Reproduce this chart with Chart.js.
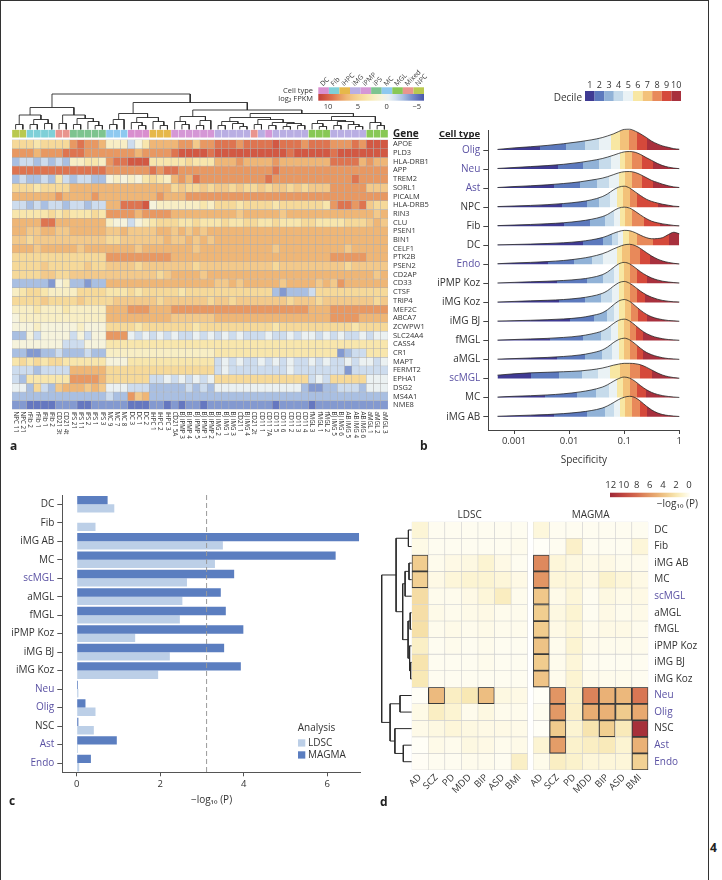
<!DOCTYPE html>
<html>
<head>
<meta charset="utf-8">
<script src="https://cdn.jsdelivr.net/npm/chart.js@4.4.1/dist/chart.umd.min.js"></script>
<style>
  body { margin: 0; background: #fff; font-family: 'Open Sans', sans-serif; }
  #page { position: relative; width: 722px; height: 880px; overflow: hidden; }
  #frame { position: absolute; left: 0; top: 0; width: 707px; height: 900px; border: 1.5px solid #333; border-bottom: none; }
  canvas { position: absolute; }
  .tag { position: absolute; font-weight: bold; font-size: 12px; color: #222; }
</style>
</head>
<body>
<div id="page">
  <div id="frame"></div>
  <canvas id="dendroA" width="460" height="70" style="left:0;top:60px"></canvas>
  <canvas id="heatA" width="460" height="340" style="left:0;top:120px"></canvas>
  <canvas id="ridges" width="280" height="410" style="left:430px;top:60px"></canvas>
  <canvas id="bars" width="365" height="330" style="left:0;top:480px"></canvas>
  <canvas id="dendroD" width="45" height="270" style="left:370px;top:510px"></canvas>
  <canvas id="ldsc" width="130" height="300" style="left:405px;top:505px"></canvas>
  <canvas id="magma" width="180" height="330" style="left:530px;top:475px"></canvas>
  <div class="tag" style="left:10px;top:437px">a</div>
  <div class="tag" style="left:420px;top:437px">b</div>
  <div class="tag" style="left:9px;top:792px">c</div>
  <div class="tag" style="left:380px;top:793px">d</div>
  <div class="tag" style="left:710px;top:839px">4</div>
</div>
<script>
'use strict';

// ---------- panel a : log2 FPKM of AD genes ----------
var genes = ['APOE', 'PLD3', 'HLA-DRB1', 'APP', 'TREM2', 'SORL1', 'PICALM', 'HLA-DRB5', 'RIN3', 'CLU',
  'PSEN1', 'BIN1', 'CELF1', 'PTK2B', 'PSEN2', 'CD2AP', 'CD33', 'CTSF', 'TRIP4', 'MEF2C', 'ABCA7',
  'ZCWPW1', 'SLC24A4', 'CASS4', 'CR1', 'MAPT', 'FERMT2', 'EPHA1', 'DSG2', 'MS4A1', 'NME8'];

var sampleNames = ['NPC 11', 'NPC 21', 'rFib 2', 'rFib 1', 'iFib 1', 'iFib 2', 'CD21 3t', 'CD21 4t',
  'iPS 21', 'iPS 11', 'iPS 2', 'iPS 1', 'iPS 3', 'MC 9', 'MC 7', 'MC 8', 'DC 3', 'DC 1', 'DC 2',
  'iHPC 1', 'iHPC 2', 'iHPC 3', 'CD21 5A', 'BJ iPMP 3', 'BJ iPMP 4', 'BJ iPMP 5', 'BJ iPMP 1', 'BJ iPMP 2',
  'BJ iMG 2', 'BJ iMG 1', 'BJ iMG 3', 'CD21 1', 'BJ iMG 4', 'CD21 2t', 'CD11 1', 'CD11 7A', 'CD11 5',
  'CD11 6', 'CD11 2', 'CD11 3', 'CD11 4', 'fMGL 3', 'fMGL 1', 'fMGL 2', 'BJ iMG 5', 'BJ iMG 6',
  'AB iMG 5', 'AB iMG 4', 'AB iMG 6', 'aMGL 1', 'aMGL 2', 'aMGL 3'];

var sampleGroups = ['NPC', 'NPC', 'Fib', 'Fib', 'Fib', 'Fib', 'Mixed', 'Mixed',
  'iPS', 'iPS', 'iPS', 'iPS', 'iPS', 'MC', 'MC', 'MC', 'DC', 'DC', 'DC',
  'iHPC', 'iHPC', 'iHPC', 'iPMP', 'iPMP', 'iPMP', 'iPMP', 'iPMP', 'iPMP',
  'iMG', 'iMG', 'iMG', 'iMG', 'iMG', 'Mixed', 'iMG', 'iPMP', 'iMG',
  'iMG', 'iMG', 'iMG', 'iMG', 'MGL', 'MGL', 'MGL', 'iMG', 'iMG',
  'iMG', 'iMG', 'iMG', 'MGL', 'MGL', 'MGL'];

var groupNames = ['DC', 'Fib', 'iHPC', 'iMG', 'iPMP', 'iPS', 'MC', 'MGL', 'Mixed', 'NPC'];
var groupColors = ['#d98fcf', '#7fd0d8', '#e6b84a', '#b9aee3', '#d597d6', '#7dc48f', '#8ec9f0', '#88c855', '#e9958e', '#b9c94f'];

// one string per gene, one char per sample: digit = log2 FPKM, p..t = -1..-5
var fpkmRows = [
  '44 4344 44 78776 222 p13 666 677577 888788 8898887 888 77787 999',
  '77 7677 78 88777 777 767 777 899998 999999 9999899 999 89999 999',
  'qp pqpq pq 22332 788 999 333 334333 666766 6676666 666 88886 766',
  '88 8888 88 88888 777 777 878 877777 777777 7787777 777 77777 777',
  'qp qqpq 3p qppqq 121 213 432 676877 777777 7877777 777 77787 777',
  '44 4344 44 66666 666 666 666 454454 554544 5455454 555 77777 555',
  '66 6666 76 66676 666 666 676 667777 777777 7777777 777 77777 777',
  'pp qpqp pq ppqpp 668 889 122 222232 444344 4434444 443 78878 544',
  '33 3334 34 33343 777 767 777 666666 666566 6665666 666 66666 656',
  '66 6688 66 66666 211 p12 344 433433 343344 3343334 433 33444 565',
  '66 5566 55 66666 556 555 566 565656 666666 6666666 666 66666 666',
  '55 4555 55 55555 445 555 556 556565 666666 6666666 666 66666 666',
  '66 6566 66 65666 666 656 666 666566 666666 6656666 666 66566 666',
  '44 4444 44 44444 777 777 777 666666 666666 6666666 666 77777 666',
  '44 4454 44 44544 555 545 555 555455 555555 5545555 555 55455 555',
  '44 4455 44 55555 555 555 545 666656 666666 6666666 666 66666 656',
  'qq qqqr 12 qqrqq 666 666 666 666666 556566 6665666 656 57666 666',
  '23 4432 22 24444 333 434 444 434444 444444 44qrqqq p44 44444 444',
  '44 4454 44 45444 455 555 545 555554 554555 5555455 545 55555 545',
  '22 2322 23 22222 666 777 666 777777 777777 7777777 666 77777 777',
  '12 2222 22 22222 666 666 666 555555 666666 6666666 666 77776 666',
  '11 1211 11 12111 444 434 444 444344 444444 4434444 444 44434 444',
  'qq 1p11 11 p1p11 777 0p0 p0p 0pp0p0 p0p0pp p0pp0p0 0p0 p0pp0 p00',
  '11 1111 1p pp111 333 333 333 333333 333333 3333333 333 33333 333',
  'qq rrqq pq qqpqq 222 222 222 222222 333333 3333333 333 3rqpp 333',
  '34 3434 43 33333 111 333 333 333333 p0p0pp 0p0p0pp 0p0 pp0p0 0p0',
  'pp pqpp pp 66666 444 444 444 444444 p0pppp pppp0pp ppp pprpp ppp',
  'pq 3333 33 77776 444 444 pp0 p0p0p0 444444 4444444 p0p 44444 000',
  '00 q4pq 56 66565 000 ppp qqq qqpqpq 000000 000000q rrq qpppq 000',
  'qq qqqq qq qqqqq pqq 756 qqq qqqqqq qqqqqq qqqqqqq qqq qqqqq qqq',
  'rr ssss rr rssrr rrr sss rrs rsrrsr rrrrrr rrsrrrr srr rrrrr rrr'
];

// sample dendrogram: [height, left, right], leaves are sample indices
var treeA = [35.5,
  [22, [14.5, [5, 0, 1], [10, [5, 2, 3], [6, 4, 5]]],
       [14.5, [6, 6, 7], [11, [5, 8, 9], [8, 10, [4, 11, 12]]]]],
  [27, [16, [10, [5, 13, 14], 15], [12, [7, 16, [4, 17, 18]], [8, 19, [4, 20, 21]]]],
       [19.5, [13, [8, 22, [5, 23, 24]], [9, [4, 25, 26], 27]],
              [16, [12, [8, [4, 28, 29], [6, 30, [3, 31, 32]]], [10, [5, 33, 34], [7, [4, 35, 36], [6, [3, 37, 38], [4, 39, 40]]]]],
                   [13, [9, [6, 41, [3, 42, 43]], [8, [4, 44, 45], [5, 46, [3, 47, 48]]]], [7, 49, [4, 50, 51]]]]]]];

// ---------- panel b : specificity ridges ----------
var ridgeNames = ['Olig', 'Neu', 'Ast', 'NPC', 'Fib', 'DC', 'Endo', 'iPMP Koz', 'iMG Koz', 'iMG BJ',
  'fMGL', 'aMGL', 'scMGL', 'MC', 'iMG AB'];
var specGrid = [-3.3, -3.0, -2.7, -2.4, -2.1, -1.8, -1.6, -1.4, -1.3, -1.2, -1.1, -1.0, -0.9, -0.8,
  -0.7, -0.6, -0.5, -0.4, -0.3, -0.2, -0.1, 0];   // log10 specificity
var ridgeHeights = [
  [0.03, 0.11, 0.17, 0.24, 0.33, 0.44, 0.53, 0.65, 0.74, 0.84, 0.97, 1.08, 1.09, 0.99, 0.84, 0.66, 0.46, 0.32, 0.21, 0.14, 0.07, 0.04],
  [0.03, 0.08, 0.13, 0.18, 0.25, 0.35, 0.44, 0.55, 0.63, 0.72, 0.82, 0.90, 0.92, 0.88, 0.76, 0.60, 0.45, 0.30, 0.18, 0.10, 0.05, 0.02],
  [0.03, 0.08, 0.12, 0.17, 0.24, 0.33, 0.42, 0.52, 0.60, 0.70, 0.80, 0.86, 0.87, 0.82, 0.70, 0.55, 0.40, 0.30, 0.20, 0.12, 0.06, 0.03],
  [0.03, 0.06, 0.09, 0.13, 0.19, 0.28, 0.38, 0.55, 0.70, 0.90, 1.05, 1.10, 1.00, 0.80, 0.60, 0.42, 0.30, 0.22, 0.15, 0.10, 0.05, 0.03],
  [0.03, 0.06, 0.09, 0.13, 0.18, 0.27, 0.36, 0.50, 0.62, 0.80, 0.95, 1.00, 0.95, 0.78, 0.58, 0.40, 0.26, 0.18, 0.12, 0.08, 0.04, 0.02],
  [0.02, 0.04, 0.06, 0.09, 0.13, 0.20, 0.28, 0.40, 0.50, 0.62, 0.72, 0.78, 0.76, 0.66, 0.52, 0.40, 0.34, 0.35, 0.40, 0.56, 0.68, 0.60],
  [0.03, 0.07, 0.10, 0.14, 0.20, 0.30, 0.40, 0.55, 0.66, 0.80, 0.92, 1.02, 1.05, 0.98, 0.82, 0.62, 0.43, 0.28, 0.17, 0.10, 0.05, 0.02],
  [0.02, 0.05, 0.08, 0.11, 0.15, 0.22, 0.30, 0.45, 0.60, 0.82, 1.02, 1.10, 1.02, 0.82, 0.60, 0.42, 0.28, 0.18, 0.11, 0.07, 0.04, 0.02],
  [0.02, 0.05, 0.08, 0.11, 0.15, 0.23, 0.32, 0.47, 0.62, 0.84, 1.03, 1.10, 1.00, 0.80, 0.58, 0.40, 0.27, 0.17, 0.10, 0.06, 0.03, 0.02],
  [0.02, 0.04, 0.06, 0.09, 0.13, 0.20, 0.30, 0.45, 0.62, 0.86, 1.07, 1.15, 1.05, 0.82, 0.58, 0.38, 0.24, 0.15, 0.09, 0.05, 0.03, 0.01],
  [0.02, 0.05, 0.08, 0.11, 0.16, 0.24, 0.34, 0.50, 0.66, 0.88, 1.06, 1.12, 1.02, 0.80, 0.56, 0.37, 0.24, 0.15, 0.09, 0.05, 0.03, 0.01],
  [0.02, 0.05, 0.08, 0.11, 0.16, 0.24, 0.34, 0.50, 0.66, 0.88, 1.05, 1.12, 1.03, 0.82, 0.58, 0.38, 0.25, 0.16, 0.09, 0.05, 0.03, 0.01],
  [0.18, 0.25, 0.30, 0.33, 0.36, 0.40, 0.46, 0.55, 0.62, 0.70, 0.76, 0.80, 0.80, 0.78, 0.72, 0.60, 0.45, 0.30, 0.18, 0.10, 0.05, 0.02],
  [0.03, 0.07, 0.10, 0.14, 0.20, 0.30, 0.40, 0.55, 0.68, 0.85, 1.00, 1.08, 1.02, 0.85, 0.62, 0.42, 0.27, 0.17, 0.10, 0.06, 0.03, 0.01],
  [0.02, 0.05, 0.08, 0.11, 0.16, 0.24, 0.32, 0.45, 0.57, 0.73, 0.90, 1.02, 1.07, 1.00, 0.80, 0.56, 0.35, 0.20, 0.11, 0.06, 0.03, 0.01]
];
// log10 specificity where deciles 2..10 start
var decileBreaks = [
  [-2.53, -2.06, -1.72, -1.45, -1.24, -1.07, -0.92, -0.77, -0.58],
  [-2.21, -1.75, -1.45, -1.24, -1.07, -0.99, -0.86, -0.68, -0.47],
  [-2.28, -1.81, -1.50, -1.28, -1.10, -0.99, -0.86, -0.68, -0.47],
  [-2.13, -1.68, -1.45, -1.25, -1.13, -1.02, -0.90, -0.77, -0.38],
  [-2.09, -1.63, -1.35, -1.19, -1.08, -0.99, -0.86, -0.64, -0.35],
  [-1.74, -1.39, -1.22, -1.12, -1.02, -0.92, -0.77, -0.47, -0.19],
  [-2.38, -1.92, -1.59, -1.38, -1.13, -1.04, -0.90, -0.72, -0.53],
  [-2.22, -1.68, -1.38, -1.19, -1.10, -1.01, -0.89, -0.77, -0.59],
  [-2.19, -1.71, -1.42, -1.22, -1.10, -1.01, -0.89, -0.77, -0.62],
  [-1.98, -1.55, -1.32, -1.19, -1.09, -0.99, -0.88, -0.75, -0.59],
  [-2.35, -1.75, -1.42, -1.24, -1.12, -1.01, -0.90, -0.78, -0.65],
  [-2.22, -1.71, -1.41, -1.22, -1.10, -1.01, -0.90, -0.77, -0.65],
  [-2.70, -2.18, -1.77, -1.47, -1.25, -1.07, -0.89, -0.71, -0.50],
  [-2.44, -1.86, -1.51, -1.28, -1.13, -1.02, -0.90, -0.77, -0.61],
  [-2.28, -1.68, -1.35, -1.19, -1.07, -0.98, -0.86, -0.71, -0.59]
];
var decileColors = ['#3f3a93', '#5c79bd', '#91b2d7', '#c6dbeb', '#eaf2f5', '#f8e7a3', '#f3c27a', '#e8895a', '#d5493b', '#a8303d'];

// ---------- panel c : enrichment, -log10 P ----------
var cellTypes = ['DC', 'Fib', 'iMG AB', 'MC', 'scMGL', 'aMGL', 'fMGL', 'iPMP Koz', 'iMG BJ', 'iMG Koz',
  'Neu', 'Olig', 'NSC', 'Ast', 'Endo'];
var magmaP = [0.74, 0, 6.76, 6.20, 3.77, 3.45, 3.57, 3.99, 3.53, 3.93, 0.03, 0.21, 0.04, 0.96, 0.34];
var ldscP = [0.90, 0.45, 3.50, 3.31, 2.64, 2.53, 2.47, 1.40, 2.23, 1.95, 0.04, 0.45, 0.41, 0.03, 0.06];
var sigThreshold = 3.11;

// ---------- panel d : other traits (AD column comes from panel c) ----------
var traits = ['AD', 'SCZ', 'PD', 'MDD', 'BIP', 'ASD', 'BMI'];
var ldscOther = [
  [0.2, 0.2, 0.2, 0.2, 0.2, 0.2], [0.2, 0.2, 0.2, 0.2, 0.2, 0.3], [0.3, 0.5, 0.6, 1.0, 0.5, 0.2],
  [0.5, 0.8, 1.0, 1.0, 0.8, 0.5], [0.3, 0.3, 0.5, 0.8, 1.6, 0.3], [0.4, 0.3, 0.4, 0.5, 0.3, 0.3],
  [0.3, 0.4, 0.3, 0.4, 0.3, 0.3], [0.2, 0.3, 0.2, 0.3, 0.2, 0.2], [0.2, 0.2, 0.2, 0.3, 0.2, 0.2],
  [0.2, 0.2, 0.2, 0.2, 0.2, 0.2], [4.4, 1.5, 2.0, 4.2, 0.6, 0.5], [1.5, 1.0, 0.3, 0.6, 0.3, 0.3],
  [0.6, 0.8, 0.6, 0.5, 0.5, 0.4], [0.4, 0.3, 0.6, 0.5, 0.3, 0.4], [0.2, 0.2, 0.3, 0.3, 0.2, 1.4]
];
var magmaOther = [
  [0.2, 0.2, 0.2, 0.2, 0.2, 0.2], [0.2, 1.3, 0.2, 0.2, 0.2, 0.8], [0.8, 0.6, 0.4, 0.5, 0.3, 0.3],
  [0.8, 0.8, 0.5, 1.2, 0.8, 0.5], [0.4, 0.8, 0.2, 0.6, 0.4, 0.5], [0.6, 1.0, 0.2, 0.5, 0.3, 0.4],
  [0.5, 0.8, 0.3, 0.5, 0.5, 0.3], [0.3, 1.0, 0.3, 0.3, 0.3, 0.3], [0.3, 0.8, 0.2, 0.2, 0.2, 0.2],
  [0.3, 1.0, 0.3, 0.3, 0.3, 0.2], [6.2, 1.2, 7.0, 4.8, 4.5, 7.5], [6.0, 1.3, 5.0, 4.8, 3.6, 5.2],
  [3.6, 1.0, 2.2, 3.4, 1.8, 11.5], [5.8, 1.2, 1.5, 1.8, 1.0, 4.8], [1.5, 1.2, 0.8, 0.8, 0.8, 3.3]
];
var treeD = [10,
  [5.2, [1.1, 0, 1], [3.0, [2.2, [0.9, 2, 3], 4], [1.2, [0.5, 5, 6], [0.7, 7, [0.35, 8, 9]]]]],
  [7.2, [3.9, 10, 11], [5.6, 12, [2.8, 13, 14]]]];

var purpleNames = ['Olig', 'Neu', 'Ast', 'Endo', 'scMGL'];
var purple = '#5a51a3';
var ink = '#333';

// ---------- colour helpers ----------
var fpkmStops = [[-5, '#4a58aa'], [-4, '#6577c0'], [-3, '#8399d0'], [-2, '#a9bfe2'], [-1, '#cddcee'],
  [0, '#ebf1f2'], [1, '#f6f3dc'], [2, '#f8eec4'], [3, '#f8e6ac'], [4, '#f6d999'], [5, '#f3c98a'],
  [6, '#efb676'], [7, '#e89862'], [8, '#de7450'], [9, '#d25843'], [10, '#c0403a']];
var pStops = [[0, '#fffef7'], [1, '#fcf4d2'], [2, '#f8e8b4'], [3.5, '#f1cd8f'], [5, '#e9ad72'],
  [6.5, '#e08f60'], [8, '#d46a4e'], [10, '#bf4640'], [12, '#9e2838']];

function hexRgb(h) {
  return [parseInt(h.slice(1, 3), 16), parseInt(h.slice(3, 5), 16), parseInt(h.slice(5, 7), 16)];
}
function ramp(stops, v) {
  if (v <= stops[0][0]) return stops[0][1];
  for (var k = 1; k < stops.length; k++) {
    if (v <= stops[k][0]) {
      var t = (v - stops[k - 1][0]) / (stops[k][0] - stops[k - 1][0]);
      var a = hexRgb(stops[k - 1][1]), b = hexRgb(stops[k][1]);
      return 'rgb(' + a.map(function (x, i) { return Math.round(x + (b[i] - x) * t); }).join(',') + ')';
    }
  }
  return stops[stops.length - 1][1];
}

var fpkmCode = { p: -1, q: -2, r: -3, s: -4, t: -5 };
var fpkm = fpkmRows.map(function (r) {
  return r.replace(/ /g, '').split('').map(function (ch) { return ch in fpkmCode ? fpkmCode[ch] : Number(ch); });
});

function dendroPoints(tree) {
  var pts = [];
  function walk(node) {
    if (typeof node === 'number') return { pos: node, h: 0 };
    var l = walk(node[1]), r = walk(node[2]), h = node[0];
    pts.push({ pos: l.pos, h: l.h }, { pos: l.pos, h: h }, { pos: r.pos, h: h }, { pos: r.pos, h: r.h }, { pos: NaN, h: NaN });
    return { pos: (l.pos + r.pos) / 2, h: h };
  }
  walk(tree);
  return pts;
}

function font(size, bold) { return (bold ? 'bold ' : '') + size + "px 'Open Sans'"; }

Chart.defaults.font.family = "'Open Sans', sans-serif";
Chart.defaults.color = ink;
Chart.defaults.animation = false;
Chart.defaults.responsive = false;
Chart.defaults.events = [];
Chart.defaults.plugins.legend.display = false;
Chart.defaults.plugins.tooltip.enabled = false;

var hidden = { display: false };

// ---------- a: dendrogram + legends ----------
new Chart(document.getElementById('dendroA'), {
  type: 'scatter',
  data: { datasets: [{
    data: dendroPoints(treeA).map(function (p) { return { x: p.pos, y: p.h }; }),
    showLine: true, spanGaps: false, pointRadius: 0, borderColor: '#2a2a2a', borderWidth: 0.9, clip: false
  }] },
  options: {
    layout: { padding: { left: 12, right: 72, top: 29.5, bottom: 0.5 } },
    scales: {
      x: { type: 'linear', min: -0.5, max: 51.5, display: false },
      y: { type: 'linear', min: 0, max: 40, display: false }
    }
  },
  plugins: [{
    id: 'legendA',
    afterDraw: function (chart) {
      var c = chart.ctx, x0 = 318.3, w = (424 - 318.3) / 10;
      c.save();
      c.fillStyle = ink;
      c.font = font(6.8);
      c.textAlign = 'left';
      c.textBaseline = 'middle';
      groupNames.forEach(function (n, k) {
        c.save();
        c.translate(x0 + (k + 0.5) * w - 2, 25);
        c.rotate(-Math.PI / 4);
        c.fillText(n, 0, 0);
        c.restore();
      });
      groupColors.forEach(function (col, k) {
        c.fillStyle = col;
        c.fillRect(x0 + k * w, 27.3, w, 6.7);
      });
      var g = c.createLinearGradient(x0, 0, x0 + 10 * w, 0);
      for (var k = 0; k <= 15; k++) g.addColorStop(k / 15, ramp(fpkmStops, 10 - k));
      c.fillStyle = g;
      c.fillRect(x0, 34, 10 * w, 6.7);
      c.fillStyle = ink;
      c.font = font(7.5);
      c.textAlign = 'right';
      c.fillText('Cell type', 313, 30.7);
      c.fillText('log\u2082 FPKM', 313, 39);
      c.textAlign = 'center';
      [['10', 328], ['5', 358], ['0', 386.7], ['\u22125', 416.7]].forEach(function (t) {
        c.fillText(t[0], t[1], 47.3);
      });
      c.restore();
    }
  }]
});

// ---------- a: heatmap ----------
var heatSets = fpkm.map(function (vals, i) {
  return {
    data: vals.map(function () { return [i, i + 1]; }),
    backgroundColor: vals.map(function (v) { return ramp(fpkmStops, v); }),
    borderColor: 'rgba(170,170,170,0.9)', borderWidth: 0.5, borderSkipped: false,
    barPercentage: 1, categoryPercentage: 1, grouped: false
  };
});
heatSets.push({
  data: sampleGroups.map(function () { return [-1.2, -0.25]; }),
  backgroundColor: sampleGroups.map(function (g) { return groupColors[groupNames.indexOf(g)]; }),
  borderColor: 'rgba(255,255,255,0.6)', borderWidth: 0.5, borderSkipped: false,
  barPercentage: 1, categoryPercentage: 1, grouped: false
});

new Chart(document.getElementById('heatA'), {
  type: 'bar',
  data: { labels: sampleNames, datasets: heatSets },
  options: {
    layout: { padding: { left: 12, right: 0, top: 9.2, bottom: 50.6 } },
    scales: {
      x: { type: 'category', display: false },
      y: {
        type: 'linear', position: 'right', reverse: true, min: -1.2, max: 31,
        afterBuildTicks: function (s) { s.ticks = genes.map(function (g, i) { return { value: i + 0.5 }; }); },
        afterFit: function (s) { s.width = 72; },
        ticks: { autoSkip: false, padding: 5, font: { size: 7.5 }, color: ink,
          callback: function (v) { return genes[Math.floor(v)]; } },
        grid: { display: false, drawTicks: false },
        border: hidden
      }
    }
  },
  plugins: [{
    id: 'labelsA',
    afterDraw: function (chart) {
      var c = chart.ctx, xs = chart.scales.x, area = chart.chartArea;
      c.save();
      c.fillStyle = ink;
      c.font = font(6.3);
      c.textAlign = 'left';
      c.textBaseline = 'middle';
      sampleNames.forEach(function (n, j) {
        c.save();
        c.translate(xs.getPixelForValue(j), area.bottom + 2);
        c.rotate(Math.PI / 2);
        c.fillText(n, 0, 0);
        c.restore();
      });
      c.font = font(10, true);
      c.fillStyle = '#222';
      c.textBaseline = 'alphabetic';
      var gx = area.right + 5, gy = 16.5;
      c.fillText('Gene', gx, gy);
      c.fillRect(gx, gy + 1.5, c.measureText('Gene').width, 1);
      c.restore();
    }
  }]
});

// ---------- b: ridgelines ----------
function ridgeFill(ctx) {
  var chart = ctx.chart, xs = chart.scales.x;
  if (!chart.chartArea || !xs || xs.right === xs.left) return decileColors[5];
  var br = decileBreaks[ctx.datasetIndex];
  var g = chart.ctx.createLinearGradient(xs.left, 0, xs.right, 0);
  var frac = function (v) { return Math.min(1, Math.max(0, (xs.getPixelForValue(v) - xs.left) / (xs.right - xs.left))); };
  g.addColorStop(0, decileColors[0]);
  br.forEach(function (b, k) {
    var p = frac(b);
    g.addColorStop(p, decileColors[k]);
    g.addColorStop(p, decileColors[k + 1]);
  });
  g.addColorStop(1, decileColors[9]);
  return g;
}

var specLabels = { '-3': '0.001', '-2': '0.01', '-1': '0.1', '0': '1' };
new Chart(document.getElementById('ridges'), {
  type: 'line',
  data: { datasets: ridgeNames.map(function (name, i) {
    var base = 14 - i;
    return {
      label: name,
      data: specGrid.map(function (x, k) { return { x: x, y: base + ridgeHeights[i][k] }; }),
      fill: { value: base }, backgroundColor: ridgeFill,
      borderColor: '#262626', borderWidth: 0.8, pointRadius: 0,
      cubicInterpolationMode: 'monotone', order: -i, clip: false
    };
  }) },
  options: {
    layout: { padding: { left: 0, right: 30.7, top: 70, bottom: 0 } },
    scales: {
      x: {
        type: 'linear', min: -3.467, max: 0,
        afterBuildTicks: function (s) { s.ticks = [-3, -2, -1, 0].map(function (v) { return { value: v }; }); },
        afterFit: function (s) { s.height = 40; },
        ticks: { autoSkip: false, padding: 2, font: { size: 9.5 }, color: ink,
          callback: function (v) { return specLabels[String(v)]; } },
        grid: { drawOnChartArea: false, tickLength: 4, color: '#444' },
        border: { color: '#444' },
        title: { display: true, text: 'Specificity', font: { size: 10 }, color: ink, padding: { top: 1 } }
      },
      y: {
        type: 'linear', min: -0.7, max: 15.05,
        afterBuildTicks: function (s) { s.ticks = ridgeNames.map(function (n, i) { return { value: i }; }); },
        afterFit: function (s) { s.width = 58.3; },
        ticks: { autoSkip: false, padding: 3, font: { size: 10 },
          color: function (c) { return purpleNames.indexOf(ridgeNames[14 - c.tick.value]) >= 0 ? purple : ink; },
          callback: function (v) { return ridgeNames[14 - v]; } },
        grid: { drawOnChartArea: false, tickLength: 5, color: '#444' },
        border: { color: '#444' }
      }
    }
  },
  plugins: [{
    id: 'legendB',
    afterDraw: function (chart) {
      var c = chart.ctx, x0 = 155, w = 9.6;
      c.save();
      decileColors.forEach(function (col, k) {
        c.fillStyle = col;
        c.fillRect(x0 + k * w, 31, w, 10);
      });
      c.fillStyle = ink;
      c.font = font(9);
      c.textAlign = 'center';
      c.textBaseline = 'middle';
      decileColors.forEach(function (col, k) { c.fillText(String(k + 1), x0 + (k + 0.5) * w, 25); });
      c.font = font(10);
      c.textAlign = 'right';
      c.fillText('Decile', 152, 38.3);
      c.font = font(9.5, true);
      c.fillStyle = '#222';
      c.textBaseline = 'alphabetic';
      c.fillText('Cell type', 50, 76.5);
      var tw = c.measureText('Cell type').width;
      c.fillRect(50 - tw, 78, tw, 1);
      c.restore();
    }
  }]
});

// ---------- c: bars ----------
new Chart(document.getElementById('bars'), {
  type: 'bar',
  data: {
    labels: cellTypes,
    datasets: [
      { label: 'MAGMA', data: magmaP, backgroundColor: '#5b7ec0', categoryPercentage: 0.9, barPercentage: 1 },
      { label: 'LDSC', data: ldscP, backgroundColor: '#bccfe7', categoryPercentage: 0.9, barPercentage: 1 }
    ]
  },
  options: {
    indexAxis: 'y',
    layout: { padding: { left: 0, right: 4.3, top: 15, bottom: 0 } },
    scales: {
      x: {
        type: 'linear', min: -0.345, max: 6.8,
        afterBuildTicks: function (s) { s.ticks = [0, 2, 4, 6].map(function (v) { return { value: v }; }); },
        afterFit: function (s) { s.height = 37.7; },
        ticks: { padding: 2, font: { size: 9.5 }, color: ink },
        grid: { drawOnChartArea: false, tickLength: 4, color: '#555' },
        border: { color: '#555' },
        title: { display: true, text: '\u2212log\u2081\u2080 (P)', font: { size: 10 }, color: ink, padding: { top: 1 } }
      },
      y: {
        afterFit: function (s) { s.width = 62.3; },
        ticks: { autoSkip: false, padding: 3, font: { size: 10 },
          color: function (c) { return purpleNames.indexOf(cellTypes[c.index]) >= 0 ? purple : ink; } },
        grid: { drawOnChartArea: false, offset: false, tickLength: 5, color: '#555' },
        border: { color: '#555' }
      }
    }
  },
  plugins: [{
    id: 'extrasC',
    afterDraw: function (chart) {
      var c = chart.ctx, area = chart.chartArea, px = chart.scales.x.getPixelForValue(sigThreshold);
      c.save();
      c.strokeStyle = '#9a9a9a';
      c.lineWidth = 1;
      c.setLineDash([5, 3]);
      c.beginPath();
      c.moveTo(px, area.top);
      c.lineTo(px, area.bottom);
      c.stroke();
      c.setLineDash([]);
      c.font = font(10);
      c.fillStyle = ink;
      c.textBaseline = 'middle';
      c.fillText('Analysis', 297.7, 248.3);
      c.fillStyle = '#bccfe7';
      c.fillRect(298, 259.3, 7.3, 7.3);
      c.fillStyle = '#5b7ec0';
      c.fillRect(298, 271.3, 7.3, 7.3);
      c.fillStyle = ink;
      c.fillText('LDSC', 308, 262.7);
      c.fillText('MAGMA', 308, 274.7);
      c.restore();
    }
  }]
});

// ---------- d: dendrogram ----------
new Chart(document.getElementById('dendroD'), {
  type: 'scatter',
  data: { datasets: [{
    data: dendroPoints(treeD).map(function (p) { return { x: p.h, y: p.pos + 0.5 }; }),
    showLine: true, spanGaps: false, pointRadius: 0, borderColor: '#2a2a2a', borderWidth: 1, clip: false
  }] },
  options: {
    layout: { padding: { left: 8.7, right: 3.3, top: 11.7, bottom: 10 } },
    scales: {
      x: { type: 'linear', min: 0, max: 11, reverse: true, display: false },
      y: { type: 'linear', min: 0, max: 15, reverse: true, display: false }
    }
  }
});

// ---------- d: heatmaps ----------
function gwasSets(rows) {
  return rows.map(function (vals, i) {
    return {
      data: vals.map(function () { return [i, i + 1]; }),
      backgroundColor: vals.map(function (v) { return ramp(pStops, v); }),
      borderColor: vals.map(function (v) { return v > sigThreshold ? '#3a3a3a' : '#cfcfcf'; }),
      borderWidth: vals.map(function (v) { return v > sigThreshold ? 1.2 : 0.6; }),
      borderSkipped: false, barPercentage: 1, categoryPercentage: 1, grouped: false
    };
  });
}
var ldscRows = cellTypes.map(function (c, i) { return [ldscP[i]].concat(ldscOther[i]); });
var magmaRows = cellTypes.map(function (c, i) { return [magmaP[i]].concat(magmaOther[i]); });

function traitAxis() {
  return {
    type: 'category',
    afterFit: function (s) { s.height = 35; },
    ticks: { autoSkip: false, minRotation: 45, maxRotation: 45, padding: 2, font: { size: 9.5 }, color: ink },
    grid: { display: false, drawTicks: false },
    border: hidden
  };
}
function titlePlugin(text, y) {
  return {
    id: 'title' + text,
    afterDraw: function (chart) {
      var c = chart.ctx, a = chart.chartArea;
      c.save();
      c.font = font(10);
      c.fillStyle = ink;
      c.textAlign = 'center';
      c.textBaseline = 'middle';
      c.fillText(text, (a.left + a.right) / 2, y);
      c.restore();
    }
  };
}

new Chart(document.getElementById('ldsc'), {
  type: 'bar',
  data: { labels: traits, datasets: gwasSets(ldscRows) },
  options: {
    layout: { padding: { left: 6.7, right: 7.3, top: 16.7, bottom: 0 } },
    scales: {
      x: traitAxis(),
      y: { type: 'linear', min: 0, max: 15, reverse: true, display: false }
    }
  },
  plugins: [titlePlugin('LDSC', 10)]
});

new Chart(document.getElementById('magma'), {
  type: 'bar',
  data: { labels: traits, datasets: gwasSets(magmaRows) },
  options: {
    layout: { padding: { left: 2.3, right: 0, top: 46.7, bottom: 0 } },
    scales: {
      x: traitAxis(),
      y: {
        type: 'linear', position: 'right', min: 0, max: 15, reverse: true,
        afterBuildTicks: function (s) { s.ticks = cellTypes.map(function (n, i) { return { value: i + 0.5 }; }); },
        afterFit: function (s) { s.width = 61.7; },
        ticks: { autoSkip: false, padding: 6, font: { size: 10 },
          color: function (c) { return purpleNames.indexOf(cellTypes[Math.floor(c.tick.value)]) >= 0 ? purple : ink; },
          callback: function (v) { return cellTypes[Math.floor(v)]; } },
        grid: { display: false, drawTicks: false },
        border: hidden
      }
    }
  },
  plugins: [titlePlugin('MAGMA', 40), {
    id: 'legendD',
    afterDraw: function (chart) {
      var c = chart.ctx;
      c.save();
      var g = c.createLinearGradient(80, 0, 160, 0);
      for (var k = 0; k <= 12; k++) g.addColorStop(k / 12, ramp(pStops, 12 - k));
      c.fillStyle = g;
      c.fillRect(80, 17.7, 80, 4.5);
      c.fillStyle = ink;
      c.font = font(9.5);
      c.textAlign = 'center';
      c.textBaseline = 'middle';
      [12, 10, 8, 6, 4, 2, 0].forEach(function (v) { c.fillText(String(v), 159 - v * 6.53, 10); });
      c.font = font(10);
      c.textAlign = 'right';
      c.fillText('\u2212log\u2081\u2080 (P)', 168, 29);
      c.restore();
    }
  }]
});
</script>
</body>
</html>
